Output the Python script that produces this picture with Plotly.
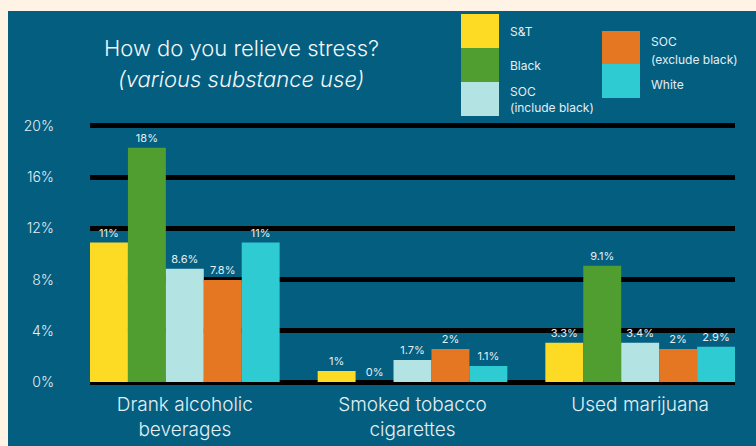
import plotly.graph_objects as go

# ---------------- data ----------------
categories = ["Drank alcoholic<br>beverages", "Smoked tobacco<br>cigarettes", "Used marijuana"]
series_names = ["S&T", "Black", "SOC (include black)", "SOC (exclude black)", "White"]
st_values = [10.9, 0.86, 3.07]
black_values = [18.3, 0.0, 9.09]
soc_incl_values = [8.85, 1.72, 3.07]
soc_excl_values = [7.97, 2.58, 2.58]
white_values = [10.9, 1.25, 2.76]
st_labels = ["11%", "1%", "3.3%"]
black_labels = ["18%", "0%", "9.1%"]
soc_incl_labels = ["8.6%", "1.7%", "3.4%"]
soc_excl_labels = ["7.8%", "2%", "2%"]
white_labels = ["11%", "1.1%", "2.9%"]
tick_values = [0, 4, 8, 12, 16, 20]
tick_labels = ["0%", "4%", "8%", "12%", "16%", "20%"]

# ---------------- style ----------------
W, H = 756, 446
ML, MR, MT, MB = 90, 21, 121, 61
BLUE = "#035E80"
CREAM = "#FEF3E4"
TXT = "#E4EFF3"
colors = ["#FDDA24", "#519E30", "#B3E3E3", "#E57722", "#2ECBD3"]

values = [st_values, black_values, soc_incl_values, soc_excl_values, white_values]
labels = [st_labels, black_labels, soc_incl_labels, soc_excl_labels, white_labels]

PW = W - ML - MR
PH = H - MT - MB


def px(x):
    return (x - ML) / PW


def py(y):
    return (H - MB - y) / PH


fig = go.Figure()
for name, vals, labs, col in zip(series_names, values, labels, colors):
    fig.add_trace(go.Bar(
        x=categories, y=vals, name=name, text=labs,
        textposition="outside", cliponaxis=False,
        textfont=dict(family="Inter", size=11, color=TXT),
        marker=dict(color=col, line=dict(width=0)),
        showlegend=False,
    ))

shapes = []
# background panel
shapes.append(dict(type="rect", xref="paper", yref="paper",
                   x0=px(8), x1=px(W + 5), y0=py(H + 5), y1=py(11),
                   fillcolor=BLUE, line=dict(width=0), layer="below"))

annotations = []
# title
annotations.append(dict(text="How do you relieve stress?", xref="paper", yref="paper",
                        x=px(241), y=py(48), xanchor="center", yanchor="middle",
                        showarrow=False,
                        font=dict(family="Inter", size=22, color="#F2F6F8", weight=300)))
annotations.append(dict(text="<i>(various substance use)</i>", xref="paper", yref="paper",
                        x=px(241), y=py(79), xanchor="center", yanchor="middle",
                        showarrow=False,
                        font=dict(family="Inter", size=22, color="#F2F6F8", weight=300)))

# custom legend
legend_boxes = [
    (461, 14, 48, ["S&T"], [31]),
    (461, 48, 82, ["Black"], [65]),
    (461, 82, 116, ["SOC", "(include black)"], [91, 108]),
    (602, 31, 64, ["SOC", "(exclude black)"], [42, 59]),
    (602, 64, 98, ["White"], [84]),
]
for (bx, y0, y1, lines, ys), col in zip(legend_boxes, colors):
    shapes.append(dict(type="rect", xref="paper", yref="paper",
                       x0=px(bx), x1=px(bx + 38), y0=py(y1), y1=py(y0),
                       fillcolor=col, line=dict(width=0), layer="above"))
    for t, ty in zip(lines, ys):
        annotations.append(dict(text=t, xref="paper", yref="paper",
                                x=px(bx + 47), y=py(ty), xanchor="left", yanchor="middle",
                                showarrow=False,
                                font=dict(family="Inter", size=12, color=TXT)))

fig.update_layout(
    width=W, height=H,
    margin=dict(l=ML, r=MR, t=MT, b=MB),
    paper_bgcolor=CREAM, plot_bgcolor=BLUE,
    barmode="group", bargap=0.167, bargroupgap=0,
    shapes=shapes, annotations=annotations,
    font=dict(family="Inter", color=TXT),
)
fig.update_xaxes(range=[-0.4165, 2.4165], showgrid=False, zeroline=False,
                 showline=False, ticks="", ticklabelstandoff=6, automargin=False,
                 tickfont=dict(family="Inter", size=19, color=TXT, weight=300))
fig.update_yaxes(range=[-0.23, 20.39], tickvals=tick_values, ticktext=tick_labels,
                 showgrid=True, gridcolor="#000000", gridwidth=5,
                 zeroline=True, zerolinecolor="#000000", zerolinewidth=5,
                 showline=False, ticks="", ticklabelstandoff=35, automargin=False,
                 tickfont=dict(family="Inter", size=14, color=TXT, weight=300))

fig.write_html("out.html")
